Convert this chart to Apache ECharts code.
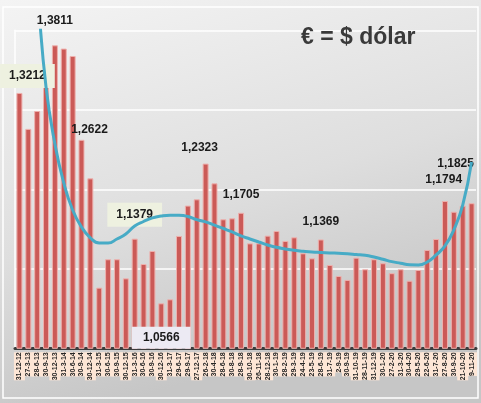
<!DOCTYPE html>
<html>
<head>
<meta charset="utf-8">
<script src="https://cdn.jsdelivr.net/npm/echarts@6/dist/echarts.min.js"></script>
<style>
html,body{margin:0;padding:0;background:#fff}
#grafico{width:481px;height:403px}
</style>
</head>
<body>
<div id="grafico"></div>
<script>
//fechas del eje x
let fechas=['31-12-12','27-3-13','28-6-13','30-9-13','30-12-13','31-3-14','30-6-14','30-9-14','30-12-14','31-3-15',
  '30-6-15','30-9-15','30-12-15','31-3-16','30-6-16','30-9-16','30-12-16','31-3-17','29-6-17','29-9-17',
  '27-12-17','26-2-18','30-4-18','28-6-18','30-8-18','28-9-18','30-10-18','26-11-18','28-12-18','30-1-19',
  '28-2-19','29-3-19','24-4-19','23-5-19','28-6-19','31-7-19','2-9-19','30-9-19','31-10-19','28-11-19',
  '31-12-19','30-1-20','27-2-20','31-3-20','30-4-20','29-5-20','22-6-20','31-7-20','27-8-20','30-9-20',
  '21-10-20','9-11-20']
//cambio euro / dolar
let cambio=[1.3212,1.2760,1.2985,1.3500,1.3811,1.3770,1.3677,1.2622,1.2138,1.0763,
  1.1120,1.1120,1.0880,1.1379,1.1060,1.1224,1.0566,1.0616,1.1413,1.1795,
  1.1874,1.2323,1.2075,1.1623,1.1635,1.1705,1.1320,1.1320,1.1417,1.1476,
  1.1350,1.1396,1.1195,1.1132,1.1369,1.1048,1.0910,1.0860,1.1140,1.0994,
  1.1120,1.1070,1.0945,1.0994,1.0850,1.0985,1.1237,1.1375,1.1853,1.1718,
  1.1794,1.1825]
//linea de tendencia
let tendencia=[1.68,1.56,1.45,1.3287,1.257,1.208,1.174,1.1526,1.139,1.1325,
  1.1325,1.1375,1.1438,1.1538,1.1595,1.164,1.1664,1.1674,1.1673,1.1658,
  1.1618,1.159,1.155,1.1507,1.1463,1.1413,1.1375,1.1337,1.13,1.127,
  1.125,1.1233,1.122,1.121,1.1205,1.12,1.1195,1.119,1.118,1.117,
  1.1148,1.112,1.109,1.107,1.105,1.1048,1.1086,1.1174,1.1287,1.149,
  1.18,1.2343]
//barras con etiqueta
let destacados=[0,4,7,13,16,21,25,34,50,51]

//colocacion de las etiquetas
let caja={backgroundColor:'#eef1e0',padding:[5,9]}
let colocar={
  0:{position:'top',distance:5,offset:[8,0],...caja},
  4:{position:'top',distance:5,offset:[0,-13]},
  7:{position:'top',distance:5,offset:[8,2]},
  13:{position:'top',distance:12,offset:[0,0],...caja},
  16:{position:'insideBottom',distance:0,offset:[0,0],backgroundColor:'#eceaf3',padding:[4,11]},
  21:{position:'top',distance:5,offset:[-6,-4]},
  25:{position:'top',distance:5,offset:[0,-6]},
  34:{position:'top',distance:5,offset:[0,-6]},
  50:{position:'top',distance:5,offset:[-19,-14]},
  51:{position:'top',distance:5,offset:[-16,-28]}
}

let barras=cambio.map((v,i)=>{
  if(!destacados.includes(i)) return v
  return {value:v,label:{show:true,...colocar[i]}}
})

var myChart=echarts.init(document.getElementById('grafico'))
option={
  backgroundColor:{type:'linear',x:0,y:0,x2:0.25,y2:1,colorStops:[
    {offset:0,color:'#f4f4f4'},{offset:0.6,color:'#dedede'},{offset:1,color:'#c6c6c6'}]},
  animation:false,
  title:{
    text:'€ = $ dólar',
    left:296,top:21,
    textStyle:{fontFamily:'Liberation Sans',fontSize:23,fontWeight:'bold',color:'#3a3a3a'}
  },
  graphic:[{type:'rect',shape:{x:3,y:7,width:475,height:391},
    style:{fill:'none',stroke:'#ffffff',lineWidth:1.5},silent:true}],
  grid:{left:15,right:5,top:30.3,bottom:54.7},
  xAxis:{
    type:'category',data:fechas,
    axisLine:{lineStyle:{color:'#3c3c3c',width:3}},
    axisTick:{show:false},
    axisLabel:{interval:0,rotate:90,fontSize:7,fontWeight:'bold',color:'#262626',
      fontFamily:'Liberation Sans',margin:4,lineHeight:9,
      backgroundColor:'#fde6d6',padding:[1,0]}
  },
  yAxis:{
    type:'value',min:1.0,max:1.4,interval:0.1,
    axisLabel:{show:false},axisTick:{show:false},
    axisLine:{show:true,lineStyle:{color:'#ffffff',width:1.5}},
    splitLine:{lineStyle:{color:'#ffffff',width:1.5}}
  },
  series:[
    {
      type:'bar',data:barras,barWidth:6,z:2,
      itemStyle:{color:'#cb5a57',borderColor:'#eeb0ad',borderWidth:1},
      label:{show:false,fontFamily:'Liberation Sans',fontSize:12,fontWeight:'bold',color:'#1a1a1a',lineHeight:14,
        formatter:p=>p.value.toFixed(4).replace('.',',')}
    },
    {
      type:'line',data:tendencia,smooth:true,showSymbol:false,z:10,clip:true,
      lineStyle:{color:'#47abc6',width:3}
    }
  ]
}
myChart.setOption(option)
</script>
</body>
</html>
